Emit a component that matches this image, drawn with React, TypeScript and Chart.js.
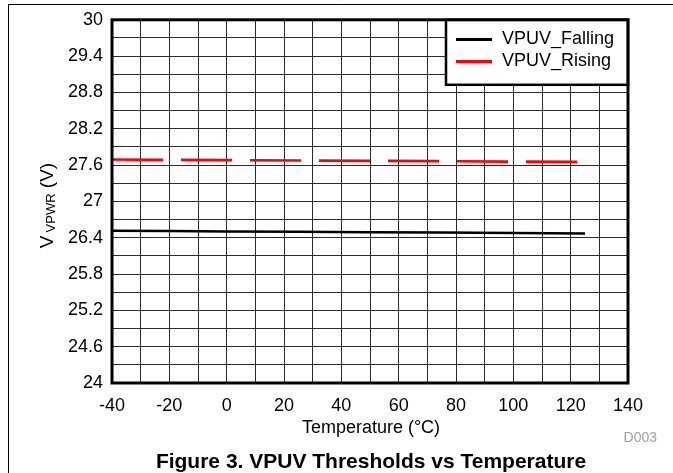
import React, { useEffect, useRef } from "react";
import { Chart, registerables } from "chart.js";

Chart.register(...registerables);

const temperatureC = [-40, -20, 0, 25, 50, 75, 100, 125];
const vpuvFalling = [26.515, 26.51, 26.503, 26.497, 26.49, 26.485, 26.478, 26.47];
const vpuvRising = [27.692, 27.687, 27.682, 27.676, 27.67, 27.665, 27.658, 27.652];

const xTickLabels = ["-40", "-20", "0", "20", "40", "60", "80", "100", "120", "140"];
const yTickLabels = ["24", "24.6", "25.2", "25.8", "26.4", "27", "27.6", "28.2", "28.8", "29.4", "30"];

const seriesNames = ["VPUV_Falling", "VPUV_Rising"];

const FONT = "'Liberation Sans', Arial, Helvetica, sans-serif";

const decorPlugin = {
  id: "decor",
  beforeDraw(chart: any) {
    const ctx = chart.ctx;
    ctx.save();
    ctx.fillStyle = "#fff";
    ctx.fillRect(0, 0, chart.width, chart.height);
    ctx.strokeStyle = "#000";
    ctx.lineWidth = 1;
    ctx.beginPath();
    ctx.moveTo(8, 4.5);
    ctx.lineTo(chart.width, 4.5);
    ctx.moveTo(8.5, 4);
    ctx.lineTo(8.5, chart.height);
    ctx.stroke();
    ctx.restore();
  },
  afterDatasetsDraw(chart: any) {
    const ctx = chart.ctx;
    const a = chart.chartArea;
    ctx.save();
    // legend box
    const lx = 446, ly = a.top, lw = a.right - 446, lh = 65;
    ctx.fillStyle = "#fff";
    ctx.fillRect(lx, ly, lw, lh);
    ctx.strokeStyle = "#000";
    ctx.lineWidth = 2.5;
    ctx.strokeRect(lx, ly, lw, lh);
    const rows = [
      { y: 39.5, color: "#000", label: seriesNames[0] },
      { y: 61.5, color: "#ff0000", label: seriesNames[1] },
    ];
    ctx.font = `18px ${FONT}`;
    ctx.textBaseline = "middle";
    ctx.textAlign = "left";
    for (const r of rows) {
      ctx.strokeStyle = r.color;
      ctx.lineWidth = 3;
      ctx.beginPath();
      ctx.moveTo(456, r.y);
      ctx.lineTo(492, r.y);
      ctx.stroke();
      ctx.fillStyle = "#000";
      ctx.fillText(r.label, 502, r.y);
    }
    // plot frame
    ctx.strokeStyle = "#000";
    ctx.lineWidth = 3;
    ctx.strokeRect(a.left, a.top, a.right - a.left, a.bottom - a.top);
    ctx.restore();
  },
  afterDraw(chart: any) {
    const ctx = chart.ctx;
    const a = chart.chartArea;
    const cx = (a.left + a.right) / 2;
    ctx.save();
    ctx.fillStyle = "#000";
    ctx.textAlign = "center";
    ctx.textBaseline = "alphabetic";
    ctx.font = `18px ${FONT}`;
    ctx.fillText("Temperature (\u00B0C)", cx + 1, 433);
    ctx.font = `bold 21px ${FONT}`;
    ctx.fillText("Figure 3. VPUV Thresholds vs Temperature", cx + 1, 468);
    ctx.font = `14px ${FONT}`;
    ctx.fillStyle = "#a0a0a0";
    ctx.textAlign = "right";
    ctx.fillText("D003", 657, 442);
    // y axis title with subscript
    ctx.translate(53, 205.5);
    ctx.rotate(-Math.PI / 2);
    ctx.fillStyle = "#000";
    ctx.textAlign = "left";
    const big = `19px ${FONT}`;
    const small = `13px ${FONT}`;
    const gap = 3;
    ctx.font = big;
    const w1 = ctx.measureText("V").width;
    const w3 = ctx.measureText(" (V)").width;
    ctx.font = small;
    const w2 = ctx.measureText("VPWR").width;
    let x = -(w1 + gap + w2 + w3) / 2;
    ctx.font = big;
    ctx.fillText("V", x, 0);
    x += w1 + gap;
    ctx.font = small;
    ctx.fillText("VPWR", x, 1.5);
    x += w2;
    ctx.font = big;
    ctx.fillText(" (V)", x, 0);
    ctx.restore();
  },
};

export default function App() {
  const ref = useRef<HTMLCanvasElement | null>(null);
  useEffect(() => {
    document.body.style.margin = "0";
    const canvas = ref.current!;
    const chart = new Chart(canvas, {
      type: "line",
      data: {
        datasets: [
          {
            label: seriesNames[0],
            data: temperatureC.map((t, i) => ({ x: t, y: vpuvFalling[i] })),
            borderColor: "#000",
            borderWidth: 2.5,
            pointRadius: 0,
            tension: 0,
          },
          {
            label: seriesNames[1],
            data: temperatureC.map((t, i) => ({ x: t, y: vpuvRising[i] })),
            borderColor: "#ff0000",
            borderWidth: 2.7,
            borderDash: [51, 18],
            borderCapStyle: "butt",
            pointRadius: 0,
            tension: 0,
          },
        ],
      },
      options: {
        animation: false,
        responsive: false,
        devicePixelRatio: 1,
        layout: { padding: { left: 0, right: 45, top: 18, bottom: 0 } },
        plugins: { legend: { display: false }, tooltip: { enabled: false }, title: { display: false } },
        scales: {
          x: {
            type: "linear",
            min: -40,
            max: 140,
            afterFit(scale: any) {
              scale.height = 90;
            },
            afterBuildTicks(scale: any) {
              const t = [];
              for (let v = -40; v <= 140; v += 10) t.push({ value: v });
              scale.ticks = t;
            },
            grid: { color: "#2a2a2a", lineWidth: 1, drawTicks: false },
            border: { display: false },
            ticks: {
              autoSkip: false,
              maxRotation: 0,
              padding: 12,
              color: "#000",
              font: { family: FONT, size: 18 },
              callback: (v: any) => {
                const s = String(v);
                return xTickLabels.includes(s) ? s : "";
              },
            },
          },
          y: {
            type: "linear",
            min: 24,
            max: 30,
            afterFit(scale: any) {
              scale.width = 112;
            },
            afterBuildTicks(scale: any) {
              const t = [];
              for (let i = 0; i <= 20; i++) t.push({ value: Math.round((24 + i * 0.3) * 10) / 10 });
              scale.ticks = t;
            },
            grid: { color: "#2a2a2a", lineWidth: 1, drawTicks: false },
            border: { display: false },
            ticks: {
              autoSkip: false,
              padding: 9,
              color: "#000",
              font: { family: FONT, size: 18 },
              callback: (v: any) => {
                const s = String(Math.round(Number(v) * 10) / 10);
                return yTickLabels.includes(s) ? s : "";
              },
            },
          },
        },
      },
      plugins: [decorPlugin],
    } as any);
    return () => chart.destroy();
  }, []);
  return (
    <div style={{ width: 673, height: 473 }}>
      <canvas ref={ref} width={673} height={473} style={{ display: "block", width: 673, height: 473 }} />
    </div>
  );
}
